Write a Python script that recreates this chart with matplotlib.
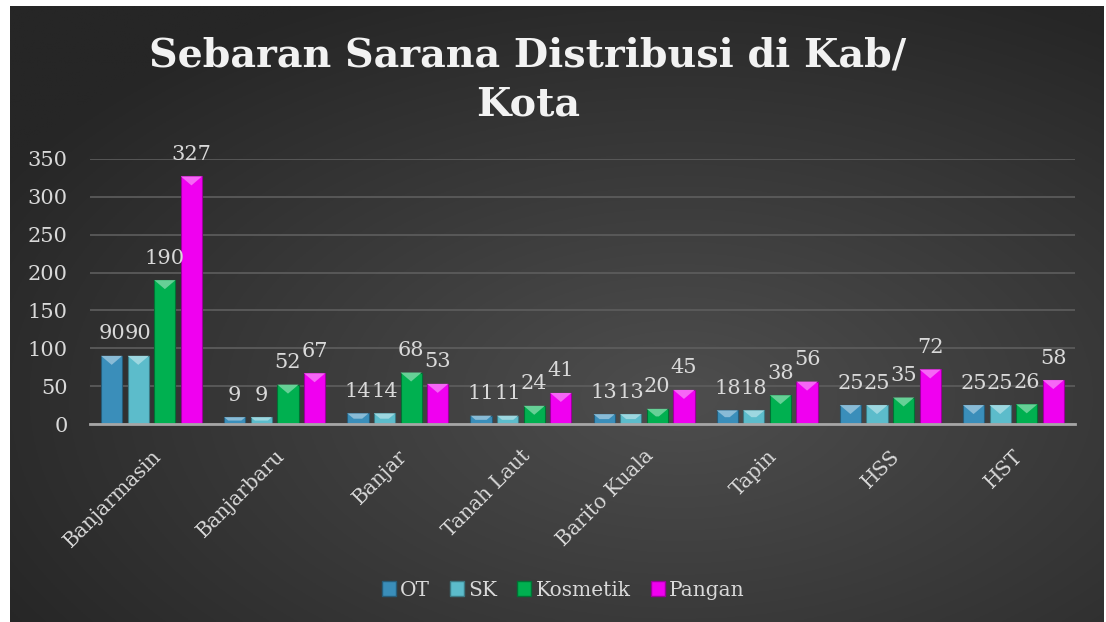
import numpy as np
import matplotlib
matplotlib.use("Agg")
import matplotlib.pyplot as plt
from matplotlib.patches import Polygon, Patch
import matplotlib.colors as mcolors

categories = ["Banjarmasin", "Banjarbaru", "Banjar", "Tanah Laut", "Barito Kuala", "Tapin", "HSS", "HST"]
series_names = ["OT", "SK", "Kosmetik", "Pangan"]
ot = [90, 9, 14, 11, 13, 18, 25, 25]
sk = [90, 9, 14, 11, 13, 18, 25, 25]
kosmetik = [190, 52, 68, 24, 20, 38, 35, 26]
pangan = [327, 67, 53, 41, 45, 56, 72, 58]
yticks = [0, 50, 100, 150, 200, 250, 300, 350]
title_lines = ["Sebaran Sarana Distribusi di Kab/", "Kota"]

colors = ["#3A8EBA", "#5CBCCB", "#00B050", "#F000F0"]
series = [ot, sk, kosmetik, pangan]

W, H = 1106, 622
fig = plt.figure(figsize=(W / 100, H / 100), dpi=100, facecolor="white")
serif = ["DejaVu Serif"]

# background with radial gradient
bg = fig.add_axes([10 / W, 0, (1104 - 10) / W, (622 - 6) / H])
bg.set_axis_off()
yy, xx = np.mgrid[0:300, 0:540]
cx, cy = 330, 190
r = np.sqrt(((xx - cx) / 540) ** 2 + ((yy - cy) / 300) ** 2)
r = np.clip(r / 0.72, 0, 1)
c0 = np.array(mcolors.to_rgb("#4E4E4E"))
c1 = np.array(mcolors.to_rgb("#262626"))
img = c0[None, None, :] * (1 - r[..., None]) + c1[None, None, :] * r[..., None]
bg.imshow(img, aspect="auto", extent=[0, 1, 0, 1], origin="upper")
bg.set_xlim(0, 1)
bg.set_ylim(0, 1)

ax = fig.add_axes([90 / W, (622 - 424) / H, (1075 - 90) / W, (424 - 159) / H])
ax.patch.set_alpha(0)
ax.set_xlim(-0.5, len(categories) - 0.5)
ax.set_ylim(0, 350)

x = np.arange(len(categories))
step = 0.216
width = 0.172
offsets = (np.arange(4) - 1.5) * step
px_x = 1 / 123.0
px_y = 350 / 265.0

def lighten(c, f):
    c = np.array(mcolors.to_rgb(c))
    return tuple(c + (1 - c) * f)

def darken(c, f):
    c = np.array(mcolors.to_rgb(c))
    return tuple(c * (1 - f))

for i, (vals, col) in enumerate(zip(series, colors)):
    xs = x + offsets[i]
    ax.bar(xs, vals, width=width, color=col, edgecolor=darken(col, 0.35),
           linewidth=0.8, zorder=3, label=series_names[i])
    for xc, v in zip(xs, vals):
        dv = min(9 * px_y, v * 0.5)
        dx = min(width / 2, (dv / px_y) * px_x * 1.2)
        tri = Polygon([(xc - width / 2, v), (xc + width / 2, v),
                       (xc + width / 2 - dx, v - dv), (xc - width / 2 + dx, v - dv)],
                      closed=True, facecolor=lighten(col, 0.4), edgecolor="none", zorder=4)
        ax.add_patch(tri)
        ax.annotate(str(v), (xc, v), xytext=(0, 9), textcoords="offset points",
                    ha="center", va="bottom", fontsize=15,
                    color="#D9D9D9", family=serif, zorder=5)

ax.set_yticks(yticks)
ax.set_yticklabels([str(t) for t in yticks], fontsize=15, color="#D9D9D9", family=serif)
ax.set_xticks(x)
ax.set_xticklabels(categories, rotation=45, ha="right", va="top", rotation_mode="anchor",
                   fontsize=14.5, color="#D9D9D9", family=serif)
ax.tick_params(axis="y", length=0, pad=16)
ax.tick_params(axis="x", length=0, pad=16)
ax.grid(axis="y", color="#5E5E5E", linewidth=1.2, zorder=0)
ax.set_axisbelow(True)
for s in ["top", "right", "left"]:
    ax.spines[s].set_visible(False)
ax.spines["bottom"].set_color("#A6A6A6")
ax.spines["bottom"].set_linewidth(2)
ax.spines["bottom"].set_zorder(6)

fig.text(528 / W, 1 - 55 / H, title_lines[0], ha="center", va="center", fontsize=28.5,
         fontweight="bold", color="#F2F2F2", family=serif)
fig.text(528 / W, 1 - 104 / H, title_lines[1], ha="center", va="center", fontsize=28.5,
         fontweight="bold", color="#F2F2F2", family=serif)

handles = [Patch(facecolor=c, edgecolor=darken(c, 0.35)) for c in colors]
leg = fig.legend(handles, series_names, loc="center", bbox_to_anchor=(563 / W, 1 - 590 / H),
                 ncol=4, frameon=False, handlelength=0.7, handleheight=0.7,
                 handletextpad=0.2, columnspacing=1.0, prop={"family": serif, "size": 14.5})
for t in leg.get_texts():
    t.set_color("#D9D9D9")

fig.savefig("out.png", dpi=100, facecolor="white")
